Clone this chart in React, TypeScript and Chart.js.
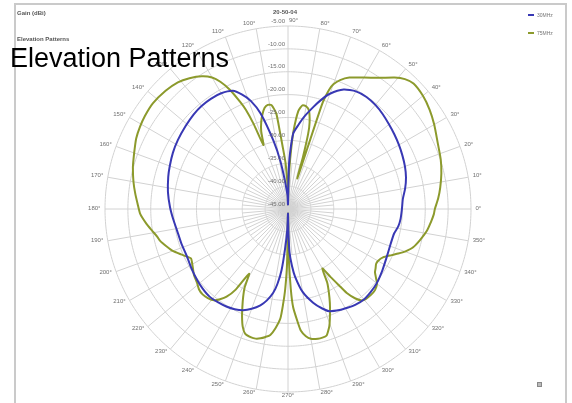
import React, { useEffect, useRef } from 'react';
import { Chart, registerables } from 'chart.js';

Chart.register(...registerables);

// ---- Data ----
const angleTickLabels = ['0°', '10°', '20°', '30°', '40°', '50°', '60°', '70°', '80°', '90°', '100°', '110°', '120°', '130°', '140°', '150°', '160°', '170°', '180°', '190°', '200°', '210°', '220°', '230°', '240°', '250°', '260°', '270°', '280°', '290°', '300°', '310°', '320°', '330°', '340°', '350°'];
const radialTickValues = [-45, -40, -35, -30, -25, -20, -15, -10, -5];
const seriesNames = ['30MHz', '75MHz'];

const mhz30Angles = [0, 5, 10, 15, 20, 25, 30, 35, 40, 45, 50, 55, 60, 65, 70, 73, 76, 80, 83, 86, 88, 89, 90, 92, 94, 96, 99, 102, 106, 109, 112, 115, 120, 125, 130, 135, 141, 148, 154, 160, 165, 172, 179, 185, 191, 198, 205, 212, 218, 223, 228, 233, 238, 242, 246, 250, 254, 257, 260, 262, 264, 266, 268, 270, 271, 272, 274, 276, 280, 285, 289, 292, 297, 301, 305, 310, 315, 320, 327, 334, 341, 347, 351, 355];
const mhz30Values = [-20.1, -19.8, -19.0, -18.3, -17.8, -17.4, -17.0, -16.6, -16.2, -15.7, -15.3, -15.1, -15.3, -16.2, -18.2, -20.0, -22.0, -24.5, -26.5, -28.4, -33, -37, -44, -42, -41, -39, -34.5, -29.8, -23.3, -20, -18, -16.5, -15.8, -15.6, -15.6, -15.8, -16.2, -16.6, -17.0, -17.5, -17.9, -18.5, -19.2, -19.8, -20.3, -20.5, -20.6, -20.2, -19.8, -19.5, -19.3, -19.5, -19.8, -20.2, -20.8, -21.8, -23.1, -24.5, -26.4, -28.5, -31.6, -36.7, -40.5, -44, -40, -35.5, -32.5, -30.1, -26.6, -23.8, -22, -20.9, -20.2, -19.8, -19.4, -19.2, -19.4, -19.7, -20.4, -21, -21.3, -21.2, -20.6, -20.3];

const mhz75Angles = [0, 4, 8, 13, 18, 24, 30, 35, 40, 45, 48, 51, 55, 60, 65, 68, 70, 71, 72, 73, 74, 75, 76, 78, 80, 82, 84, 86, 87, 88, 89, 90, 91, 93, 95, 96, 97, 99, 101, 103, 105, 107, 109, 111, 112, 113, 114, 116, 118, 120, 123, 127, 131, 136, 142, 147, 151, 155, 158, 162, 165, 170, 174, 178, 182, 186, 189, 192, 194, 197, 200, 203, 205, 207, 209, 212, 215, 219, 222, 225, 228, 231, 233, 235, 237, 239, 241, 243, 245, 247, 249, 251, 254, 256, 258, 260, 262, 264, 266, 267, 268, 269, 270, 271, 272, 273, 275, 276, 278, 280, 283, 285, 287, 289, 290, 292, 294, 296, 298, 300, 302, 304, 305, 307, 309, 311, 314, 317, 320, 322, 324, 326, 328, 330, 333, 336, 338, 340, 343, 347, 351, 355, 358];
const mhz75Values = [-12.9, -12.1, -11.4, -10.6, -9.9, -9.2, -8.1, -7.2, -6.5, -6.2, -6.8, -8.0, -10.0, -11.8, -13.3, -14.6, -16.0, -17.5, -21, -38, -33, -28, -25.5, -23, -22.2, -22.1, -23.5, -28, -32, -36, -40, -44, -40, -35, -31, -28, -24, -22, -21.8, -22.3, -23.5, -25, -27, -30, -25, -21.5, -19.5, -16, -13.5, -11.8, -10.4, -9.2, -8.3, -7.8, -7.5, -7.7, -8.0, -8.4, -8.9, -9.5, -9.9, -10.7, -11.4, -12.1, -12.7, -13.9, -14.9, -15.8, -16.2, -17.2, -18.2, -19.6, -20.5, -21.2, -21.0, -20.5, -19.9, -19.4, -18.8, -18.6, -18.8, -19.3, -20.3, -21.6, -24, -28.5, -25.5, -23.4, -21.4, -19.3, -17.4, -16.2, -15.8, -15.8, -16.1, -16.6, -17.2, -18.8, -21, -24, -27.5, -33, -44, -34, -27.5, -23.5, -20, -18.3, -16.9, -16.2, -15.9, -15.9, -16.1, -17.5, -18.4, -20.5, -22.5, -24.6, -26.7, -30, -27.5, -24.5, -22.6, -20.5, -19.3, -19.0, -18.9, -19.0, -19.6, -20.6, -21.5, -21.9, -22.3, -22.3, -21.7, -20.2, -19.0, -17.8, -16.4, -15.3, -14.3, -13.6, -13.1];

// ---- Helpers ----
const N = 360;
const idxOfAngle = (a: number) => (((90 - a) % 360) + 360) % 360;
const radarLabels = Array.from({ length: N }, (_, i) => String((90 - i + 360) % 360));
function toRadar(angles: number[], values: number[]) {
  const arr: (number | null)[] = new Array(N).fill(null);
  angles.forEach((a, k) => {
    arr[idxOfAngle(a)] = values[k];
  });
  return arr;
}

const FONT = '"Liberation Sans", Arial, sans-serif';
const GRID = '#d2d2d2';

// short 5° spokes near the centre
const innerSpokes = {
  id: 'innerSpokes',
  beforeDatasetsDraw(chart: any) {
    const scale = chart.scales.r;
    const ctx = chart.ctx as CanvasRenderingContext2D;
    const d = scale.getDistanceFromCenterForValue(-35);
    ctx.save();
    ctx.strokeStyle = GRID;
    ctx.lineWidth = 1;
    ctx.beginPath();
    for (let a = 5; a < 360; a += 10) {
      const p = scale.getPointPosition(idxOfAngle(a), d);
      ctx.moveTo(scale.xCenter, scale.yCenter);
      ctx.lineTo(p.x, p.y);
    }
    ctx.stroke();
    ctx.restore();
  },
};

const labelsPlugin = {
  id: 'polarLabels',
  afterDraw(chart: any) {
    const scale = chart.scales.r;
    const ctx = chart.ctx as CanvasRenderingContext2D;
    ctx.save();
    ctx.fillStyle = '#707070';
    ctx.font = `6px ${FONT}`;
    ctx.textBaseline = 'middle';
    const R = scale.drawingArea;
    angleTickLabels.forEach((lbl) => {
      const deg = parseInt(lbl, 10);
      const p = scale.getPointPosition(idxOfAngle(deg), R + 4.5);
      const c = Math.cos((deg * Math.PI) / 180);
      let align: CanvasTextAlign = 'center';
      let dx = 0;
      if (deg === 90) { align = 'left'; dx = 1; }
      else if (deg === 270) { align = 'center'; }
      else if (c > 1e-6) align = 'left';
      else if (c < -1e-6) align = 'right';
      ctx.textAlign = align;
      ctx.fillText(lbl, p.x + dx, p.y - 1);
    });
    ctx.textAlign = 'right';
    radialTickValues.forEach((v) => {
      const d = scale.getDistanceFromCenterForValue(v);
      ctx.fillText(v.toFixed(2), scale.xCenter - 3, scale.yCenter - d - 5);
    });
    ctx.restore();
  },
};

export default function App() {
  const ref = useRef<HTMLCanvasElement | null>(null);
  useEffect(() => {
    if (!ref.current) return;
    const chart = new Chart(ref.current, {
      type: 'radar',
      data: {
        labels: radarLabels,
        datasets: [
          {
            label: seriesNames[0],
            data: toRadar(mhz30Angles, mhz30Values),
            borderColor: '#3838b4',
            borderWidth: 2,
            pointRadius: 0,
            pointHoverRadius: 0,
            fill: false,
            spanGaps: true,
            tension: 0.2,
          },
          {
            label: seriesNames[1],
            data: toRadar(mhz75Angles, mhz75Values),
            borderColor: '#8c9a2c',
            borderWidth: 2,
            pointRadius: 0,
            pointHoverRadius: 0,
            fill: false,
            spanGaps: true,
            tension: 0.2,
          },
        ],
      },
      options: {
        responsive: false,
        animation: false,
        devicePixelRatio: 1,
        layout: { padding: { left: 4, right: 0, top: 26, bottom: 11 } },
        plugins: { legend: { display: false }, tooltip: { enabled: false }, title: { display: false } },
        scales: {
          r: {
            min: -45,
            max: -5,
            startAngle: 0,
            ticks: { stepSize: 5, display: false },
            pointLabels: { display: false },
            grid: { color: GRID, lineWidth: 1 },
            angleLines: {
              color: GRID,
              lineWidth: (c: any) => (Number(c.label) % 10 === 0 ? 1 : 0),
            },
          },
        },
      },
      plugins: [innerSpokes, labelsPlugin],
    });
    return () => chart.destroy();
  }, []);

  const small: React.CSSProperties = { position: 'absolute', fontFamily: FONT, fontSize: 6, lineHeight: '7px', color: '#555', fontWeight: 'bold', whiteSpace: 'nowrap' };
  return (
    <div style={{ position: 'fixed', left: 0, top: 0, width: 572, height: 403, background: '#fff', overflow: 'hidden' }}>
      <div style={{ position: 'absolute', left: 14, top: 3, width: 553, height: 430, boxSizing: 'border-box', border: '2px solid #cacaca', borderBottom: 'none' }} />
      <canvas ref={ref} width={572} height={403} style={{ position: 'absolute', left: 0, top: 0 }} />
      <div style={{ ...small, left: 17, top: 10 }}>Gain (dBi)</div>
      <div style={{ ...small, left: 17, top: 35.5 }}>Elevation Patterns</div>
      <div style={{ ...small, left: 285, top: 9, transform: 'translateX(-50%)' }}>20-50-04</div>
      <div style={{ position: 'absolute', left: 528, top: 14, width: 6, height: 2, background: '#3838b4' }} />
      <div style={{ ...small, fontWeight: 'normal', fontSize: 5, color: '#777', left: 537, top: 12 }}>{seriesNames[0]}</div>
      <div style={{ position: 'absolute', left: 528, top: 32, width: 6, height: 2, background: '#8c9a2c' }} />
      <div style={{ ...small, fontWeight: 'normal', fontSize: 5, color: '#777', left: 537, top: 30 }}>{seriesNames[1]}</div>
      <div style={{ position: 'absolute', left: 537, top: 382, width: 5, height: 5, boxSizing: 'border-box', border: '1px solid #888', background: '#bbb' }} />
      <div style={{ position: 'absolute', left: 10, top: 45, fontFamily: FONT, fontSize: 27, lineHeight: '27px', color: '#000', whiteSpace: 'nowrap' }}>Elevation Patterns</div>
    </div>
  );
}
